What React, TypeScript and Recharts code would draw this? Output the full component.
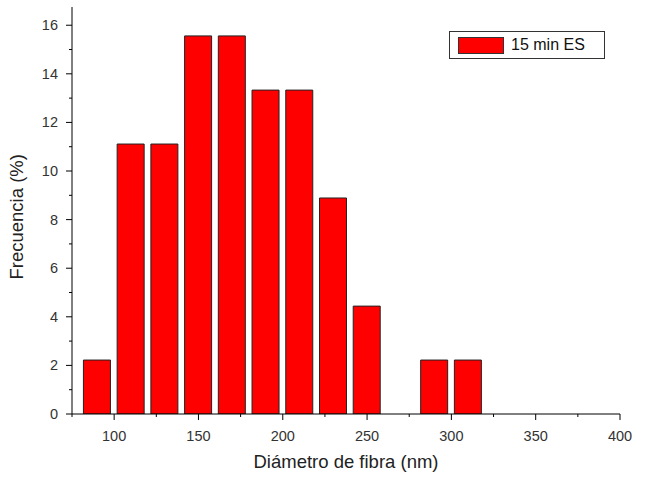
import { BarChart, Bar, XAxis, YAxis, Legend } from 'recharts';

const binCenters = [90, 110, 130, 150, 170, 190, 210, 230, 250, 270, 290, 310];
const frequency = [2.22, 11.11, 11.11, 15.56, 15.56, 13.33, 13.33, 8.89, 4.44, 0, 2.22, 2.22];
const xTicks = [75, 100, 125, 150, 175, 200, 225, 250, 275, 300, 325, 350, 375, 400];
const yTicks = [0, 1, 2, 3, 4, 5, 6, 7, 8, 9, 10, 11, 12, 13, 14, 15, 16];

const data = binCenters.map((d, i) => ({ d, f: frequency[i] }));

const FONT = '"Liberation Sans", Arial, sans-serif';

const XTick = ({ x, y, payload }: any) => {
  const major = payload.value % 50 === 0;
  return (
    <g>
      <line x1={x} x2={x} y1={y} y2={y + (major ? 6 : 3)} stroke="#000" />
      {major && (
        <text x={x} y={y + 27} textAnchor="middle" fontSize={14.5} fontFamily={FONT} fill="#333">
          {payload.value}
        </text>
      )}
    </g>
  );
};

const YTick = ({ x, y, payload }: any) => {
  const major = payload.value % 2 === 0;
  return (
    <g>
      <line x1={x} x2={x - (major ? 6 : 3)} y1={y} y2={y} stroke="#000" />
      {major && (
        <text x={x - 14} y={y + 5} textAnchor="end" fontSize={14.5} fontFamily={FONT} fill="#333">
          {payload.value}
        </text>
      )}
    </g>
  );
};

const LegendBox = () => (
  <div style={{ width: 154, height: 26, border: '1px solid #333', background: '#fff', display: 'flex', alignItems: 'center', fontFamily: FONT, fontSize: 16, color: '#111' }}>
    <div style={{ width: 44, height: 15, background: '#ff0000', border: '1px solid #333', marginLeft: 8, marginRight: 7 }} />
    <span>15 min ES</span>
  </div>
);

export default function App() {
  return (
    <div style={{ position: 'absolute', left: 0, top: 0, width: 647, height: 483, background: '#fff' }}>
      <BarChart width={647} height={483} data={data} margin={{ top: 7, right: 27, bottom: 0, left: 0 }}>
        <XAxis
          dataKey="d"
          type="number"
          domain={[75, 400]}
          ticks={xTicks}
          allowDataOverflow
          height={69}
          tickSize={0}
          tickMargin={0}
          tickLine={false}
          tick={<XTick />}
          stroke="#000"
          interval={0}
          label={{ value: 'Diámetro de fibra (nm)', position: 'insideBottom', offset: 15, fontSize: 18.5, fontFamily: FONT, fill: '#222' }}
        />
        <YAxis
          type="number"
          domain={[0, 16.75]}
          ticks={yTicks}
          allowDataOverflow
          width={72}
          tickSize={0}
          tickMargin={0}
          tickLine={false}
          tick={<YTick />}
          stroke="#000"
          interval={0}
          label={{ value: 'Frecuencia (%)', angle: -90, position: 'insideLeft', offset: 16, dy: 69, fontSize: 18.5, fontFamily: FONT, fill: '#222' }}
        />
        <Legend
          layout="vertical"
          align="center"
          verticalAlign="middle"
          wrapperStyle={{ position: 'absolute', top: 31, left: 449, width: 'auto' }}
          content={<LegendBox />}
        />
        <Bar dataKey="f" fill="#ff0000" stroke="#222" strokeWidth={1} barSize={27} isAnimationActive={false} />
      </BarChart>
    </div>
  );
}
